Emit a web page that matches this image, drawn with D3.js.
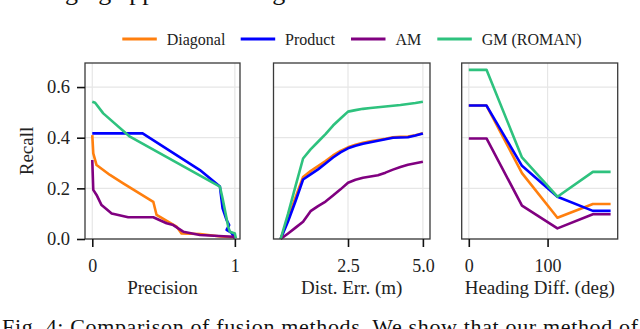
<!DOCTYPE html>
<html>
<head>
<meta charset="utf-8">
<script src="https://cdn.jsdelivr.net/npm/d3@7"></script>
<style>
  body { margin: 0; background: #fff; }
  svg text { font-family: "Liberation Serif", "Times New Roman", Times, serif !important; }
</style>
</head>
<body>
<div id="chart"></div>
<script>
// methods, in legend / draw order
const methods = ["Diagonal", "Product", "AM", "GM (ROMAN)"];
const methodColors = ["#ff7f0e", "#0000ff", "#800080", "#2ec27e"];

// panel 1: precision / recall pairs
const prDiagonal = [[0, 0.41], [0.007, 0.338], [0.03, 0.292], [0.124, 0.253], [0.217, 0.22], [0.428, 0.147],
  [0.451, 0.095], [0.591, 0.049], [0.626, 0.022], [0.755, 0.02], [0.9, 0.01], [1.0, 0.007]];
const prProduct = [[0, 0.417], [0.353, 0.417], [0.755, 0.272], [0.895, 0.207], [0.914, 0.121], [0.942, 0.075],
  [0.96, 0.055], [0.942, 0.036], [0.975, 0.025], [1.0, 0.003]];
const prAM = [[0, 0.312], [0.007, 0.194], [0.03, 0.174], [0.065, 0.134], [0.136, 0.101], [0.252, 0.086],
  [0.428, 0.086], [0.521, 0.062], [0.568, 0.055], [0.638, 0.029], [0.755, 0.016], [0.988, 0.009], [1.0, 0.007]];
const prGM = [[0, 0.542], [0.02, 0.538], [0.077, 0.496], [0.264, 0.404], [0.895, 0.207], [0.914, 0.16],
  [0.953, 0.049], [0.965, 0.029], [1.0, 0.022], [1.007, 0.003]];

// panel 2: recall vs distance error threshold
const distErr = [0.25, 0.5, 0.75, 1.0, 1.25, 1.5, 1.75, 2.0, 2.25, 2.5, 2.75, 3.0, 3.25, 3.5, 3.75, 4.0, 4.25, 4.5, 4.75, 5.0];
const distDiagonal = [0, 0.08, 0.165, 0.245, 0.268, 0.288, 0.308, 0.33, 0.348, 0.362, 0.372, 0.38, 0.386, 0.391, 0.396, 0.402, 0.404, 0.405, 0.41, 0.418];
const distProduct = [0, 0.07, 0.15, 0.235, 0.255, 0.275, 0.298, 0.322, 0.342, 0.358, 0.368, 0.376, 0.382, 0.388, 0.394, 0.4, 0.401, 0.402, 0.409, 0.417];
const distAM = [0, 0.022, 0.045, 0.068, 0.11, 0.13, 0.148, 0.172, 0.196, 0.222, 0.234, 0.242, 0.247, 0.252, 0.262, 0.274, 0.284, 0.293, 0.299, 0.305];
const distGM = [0, 0.1, 0.21, 0.318, 0.354, 0.384, 0.414, 0.448, 0.476, 0.503, 0.509, 0.514, 0.517, 0.52, 0.523, 0.526, 0.529, 0.533, 0.537, 0.542];

// panel 3: recall vs heading difference
const heading = [0, 22.5, 67.5, 112.5, 157.5, 180];
const headDiagonal = [0.527, 0.527, 0.26, 0.084, 0.138, 0.138];
const headProduct = [0.527, 0.527, 0.289, 0.167, 0.111, 0.111];
const headAM = [0.397, 0.397, 0.132, 0.042, 0.098, 0.098];
const headGM = [0.668, 0.668, 0.322, 0.167, 0.265, 0.265];

const yTicks = [0, 0.2, 0.4, 0.6];

const width = 640, height = 329;
const svg = d3.select("#chart").append("svg")
  .attr("width", width)
  .attr("height", height)
  .style("display", "block");

svg.append("rect").attr("width", width).attr("height", height).attr("fill", "#fff");

const plotTop = 63, plotBottom = 239;
const yScale = d3.scaleLinear().domain([0, 0.695]).range([plotBottom, plotTop]);

const zip = (xs, ys) => xs.map((x, i) => [x, ys[i]]);

const panels = [
  { x0: 85, x1: 240, domain: [-0.051, 1.036], ticks: [0, 1], fmt: d3.format("d"), label: "Precision",
    series: [prDiagonal, prProduct, prAM, prGM], yLabels: true },
  { x0: 273.5, x1: 430, domain: [0.0125, 5.2375], ticks: [2.5, 5.0], fmt: d3.format(".1f"), label: "Dist. Err. (m)",
    series: [zip(distErr, distDiagonal), zip(distErr, distProduct), zip(distErr, distAM), zip(distErr, distGM)] },
  { x0: 461.7, x1: 617.7, domain: [-9, 189], ticks: [0, 100], fmt: d3.format("d"), label: "Heading Diff. (deg)",
    series: [zip(heading, headDiagonal), zip(heading, headProduct), zip(heading, headAM), zip(heading, headGM)] }
];

panels.forEach(p => {
  const xScale = d3.scaleLinear().domain(p.domain).range([p.x0, p.x1]);
  const g = svg.append("g");

  // grid
  g.selectAll(".hgrid").data(yTicks).enter().append("line")
    .attr("x1", p.x0).attr("x2", p.x1)
    .attr("y1", d => yScale(d)).attr("y2", d => yScale(d))
    .attr("stroke", "#e6e6e6").attr("stroke-width", 1.2);
  g.selectAll(".vgrid").data(p.ticks).enter().append("line")
    .attr("x1", d => xScale(d)).attr("x2", d => xScale(d))
    .attr("y1", plotTop).attr("y2", plotBottom)
    .attr("stroke", "#e6e6e6").attr("stroke-width", 1.2);

  // lines
  const line = d3.line().x(d => xScale(d[0])).y(d => yScale(d[1]));
  p.series.forEach((s, i) => {
    g.append("path")
      .attr("d", line(s))
      .attr("fill", "none")
      .attr("stroke", methodColors[i])
      .attr("stroke-width", 2.6)
      .attr("stroke-linejoin", "round");
  });

  // spines
  g.append("rect")
    .attr("x", p.x0).attr("y", plotTop)
    .attr("width", p.x1 - p.x0).attr("height", plotBottom - plotTop)
    .attr("fill", "none").attr("stroke", "#3a3a3a").attr("stroke-width", 1.3);

  // x axis
  const xAxis = d3.axisBottom(xScale).tickValues(p.ticks).tickFormat(p.fmt)
    .tickSize(8).tickPadding(12);
  const xa = g.append("g").attr("transform", `translate(0,${plotBottom})`).call(xAxis)
    .attr("font-family", null).attr("font-size", 18);
  xa.select(".domain").remove();
  xa.selectAll(".tick line").attr("stroke", "#111").attr("stroke-width", 1.6);
  xa.selectAll(".tick text").attr("fill", "#222");

  g.append("text")
    .attr("x", (p.x0 + p.x1) / 2).attr("y", 294)
    .attr("text-anchor", "middle")
    .attr("font-size", 19).attr("fill", "#222")
    .text(p.label);

  if (p.yLabels) {
    const yAxis = d3.axisLeft(yScale).tickValues(yTicks).tickFormat(d3.format(".1f"))
      .tickSize(8).tickPadding(7);
    const ya = g.append("g").attr("transform", `translate(${p.x0},0)`).call(yAxis)
      .attr("font-family", null).attr("font-size", 18.5);
    ya.select(".domain").remove();
    ya.selectAll(".tick line").attr("stroke", "#111").attr("stroke-width", 1.6);
    ya.selectAll(".tick text").attr("fill", "#222");

    g.append("text")
      .attr("transform", `translate(33,${(plotTop + plotBottom) / 2}) rotate(-90)`)
      .attr("text-anchor", "middle")
      .attr("font-size", 19).attr("fill", "#222")
      .text("Recall");
  }
});

// legend
const legendX = [122.3, 240.7, 351, 437.3];
const leg = svg.append("g");
methods.forEach((m, i) => {
  leg.append("line")
    .attr("x1", legendX[i]).attr("x2", legendX[i] + 34.5)
    .attr("y1", 39).attr("y2", 39)
    .attr("stroke", methodColors[i]).attr("stroke-width", 2.8);
  leg.append("text")
    .attr("x", legendX[i] + 44.4).attr("y", 45)
    .attr("font-size", 16).attr("fill", "#222")
    .text(m);
});

// surrounding paper text, cut by the crop
svg.append("text")
  .attr("x", -10).attr("y", 0)
  .attr("font-size", 26).attr("fill", "#111")
  .text("challenging approach to align the two local frames.");

svg.append("text")
  .attr("x", 2).attr("y", 334)
  .attr("font-size", 22).attr("fill", "#111")
  .attr("textLength", 636).attr("lengthAdjust", "spacing")
  .text("Fig. 4: Comparison of fusion methods. We show that our method of");
</script>
</body>
</html>
